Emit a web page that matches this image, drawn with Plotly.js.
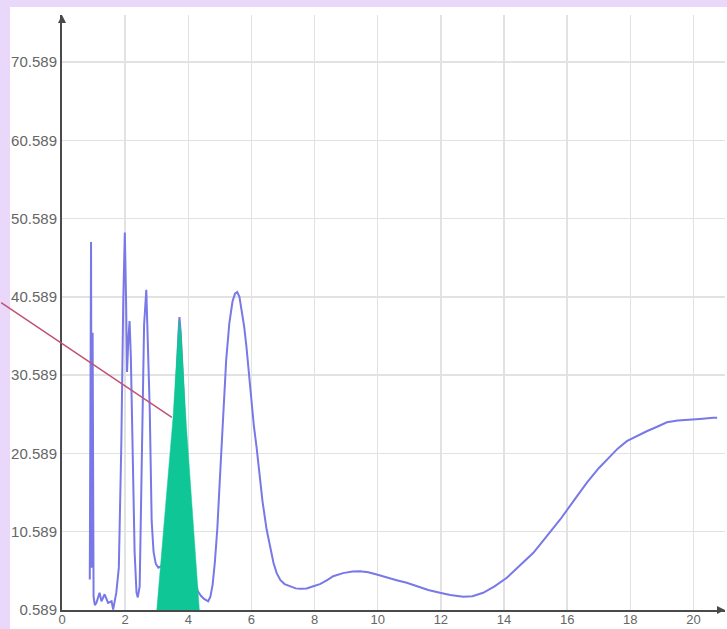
<!DOCTYPE html>
<html>
<head>
<meta charset="utf-8">
<script src="https://cdn.plot.ly/plotly-3.0.1.min.js"></script>
<style>
  html, body { margin: 0; padding: 0; background: #e9d8fa; overflow: hidden; }
  #chart { width: 727px; height: 629px; }
</style>
</head>
<body>
<div id="chart"></div>
<script>
// ---- data ----
const blueX = [0.88,0.92,0.94,0.97,1.00,1.04,1.09,1.19,1.25,1.35,1.46,1.57,1.62,1.72,1.80,1.88,1.94,1.99,2.03,2.06,2.10,2.14,2.18,2.24,2.30,2.36,2.40,2.46,2.50,2.54,2.60,2.67,2.73,2.78,2.84,2.90,2.97,3.05,3.15,3.30,3.45,3.55,3.65,3.69,3.72,3.76,3.82,3.90,4.00,4.10,4.20,4.30,4.40,4.50,4.63,4.70,4.77,4.84,4.92,5.00,5.10,5.20,5.30,5.40,5.48,5.55,5.62,5.70,5.77,5.84,5.92,6.00,6.08,6.16,6.25,6.35,6.48,6.60,6.70,6.80,6.92,7.05,7.22,7.40,7.55,7.75,7.96,8.17,8.40,8.59,8.90,9.20,9.44,9.70,9.97,10.30,10.60,10.92,11.30,11.60,11.97,12.30,12.71,13.00,13.34,13.70,14.09,14.50,14.93,15.35,15.78,16.20,16.62,17.00,17.36,17.60,17.89,18.20,18.52,18.85,19.16,19.50,19.79,20.20,20.63,20.75];
const blueY = [4.5,47.6,6.0,36.0,2.3,1.2,1.5,2.8,1.7,2.6,1.5,1.7,0.65,2.8,6.0,22.0,40.0,48.8,40.0,31.0,35.0,37.5,33.0,20.0,8.0,2.8,2.2,3.6,14.0,26.0,37.0,41.5,33.0,26.0,12.0,8.0,6.5,6.0,6.2,7.0,14.0,24.0,32.0,36.0,38.0,36.0,31.0,23.0,14.0,8.0,4.5,3.0,2.4,2.0,1.7,2.3,3.8,6.6,11.0,17.3,25.8,32.5,37.2,40.0,41.0,41.2,40.6,38.8,36.8,34.3,30.5,27.0,24.0,21.5,18.0,14.5,10.9,8.3,6.6,5.3,4.4,3.9,3.6,3.35,3.3,3.35,3.63,3.9,4.4,4.9,5.3,5.5,5.55,5.4,5.12,4.7,4.4,4.06,3.5,3.15,2.79,2.5,2.27,2.35,2.79,3.6,4.7,6.2,7.89,10.0,12.15,14.5,16.83,18.7,20.23,21.2,22.15,22.8,23.42,24.0,24.57,24.8,24.92,25.0,25.14,25.15];

const greenX = [2.99,3.52,3.62,3.68,3.71,3.77,3.85,3.94,4.36];
const greenY = [0.0,25.3,32.0,36.0,37.6,36.0,30.5,24.06,0.0];

const pointerX = [-1.975, 3.48];
const pointerY = [40.0, 25.2];

const xTickVals = [0,2,4,6,8,10,12,14,16,18,20];
const xTickText = ['0','2','4','6','8','10','12','14','16','18','20'];
const yTickVals = [0.589,10.589,20.589,30.589,40.589,50.589,60.589,70.589];
const yTickText = ['0.589','10.589','20.589','30.589','40.589','50.589','60.589','70.589'];

// ---- chart ----
const traces = [
  {
    x: blueX, y: blueY, type: 'scatter', mode: 'lines',
    line: { color: '#7878e8', width: 2 },
    hoverinfo: 'skip', showlegend: false
  },
  {
    x: greenX, y: greenY, type: 'scatter', mode: 'lines',
    fill: 'toself', fillcolor: '#0fc796',
    line: { color: '#0fc796', width: 0.5 },
    hoverinfo: 'skip', showlegend: false
  }
];

const yFont = { family: 'Liberation Sans, Arial, sans-serif', size: 15, color: '#666666' };
const xFont = { family: 'Liberation Sans, Arial, sans-serif', size: 13, color: '#666666' };

const layout = {
  width: 727, height: 629,
  margin: { l: 62, r: 2, t: 15, b: 19, pad: 0 },
  paper_bgcolor: '#e9d8fa',
  plot_bgcolor: '#ffffff',
  showlegend: false,
  xaxis: {
    range: [0, 21.0],
    tickmode: 'array', tickvals: xTickVals, ticktext: xTickText,
    showgrid: true, gridcolor: '#e2e2e2', gridwidth: 1.5,
    zeroline: false, showline: true, linecolor: '#4a4a4a', linewidth: 2,
    ticks: '', ticklen: 0, ticklabelstandoff: -4, tickfont: xFont, fixedrange: true
  },
  yaxis: {
    range: [0.589, 76.6],
    tickmode: 'array', tickvals: yTickVals, ticktext: yTickText,
    showgrid: true, gridcolor: '#e2e2e2', gridwidth: 1.5,
    zeroline: false, showline: true, linecolor: '#4a4a4a', linewidth: 2,
    ticks: '', ticklen: 0, tickfont: yFont, fixedrange: true
  },
  shapes: [
    {
      type: 'rect', xref: 'paper', yref: 'paper',
      x0: -0.0784, x1: 1.01, y0: -0.05, y1: 1.0134,
      fillcolor: '#ffffff', line: { width: 0 }, layer: 'below'
    }
  ],
  annotations: [
    {
      xref: 'x', yref: 'y', axref: 'x', ayref: 'y',
      x: pointerX[1], y: pointerY[1], ax: pointerX[0], ay: pointerY[0],
      text: '', showarrow: true, arrowhead: 0, arrowwidth: 1.5,
      arrowcolor: '#c25272', standoff: 0, startstandoff: 0
    },
    {
      xref: 'paper', yref: 'paper', x: 1.0, y: 0, ax: -9, ay: 0,
      text: '', showarrow: true, arrowhead: 2, arrowsize: 1, arrowwidth: 1.6,
      arrowcolor: '#4a4a4a', standoff: 0
    },
    {
      xref: 'paper', yref: 'paper', x: 0, y: 1.0, ax: 0, ay: 9,
      text: '', showarrow: true, arrowhead: 2, arrowsize: 1, arrowwidth: 1.6,
      arrowcolor: '#4a4a4a', standoff: 0
    }
  ]
};

Plotly.newPlot('chart', traces, layout, { displayModeBar: false, staticPlot: true });
</script>
</body>
</html>
